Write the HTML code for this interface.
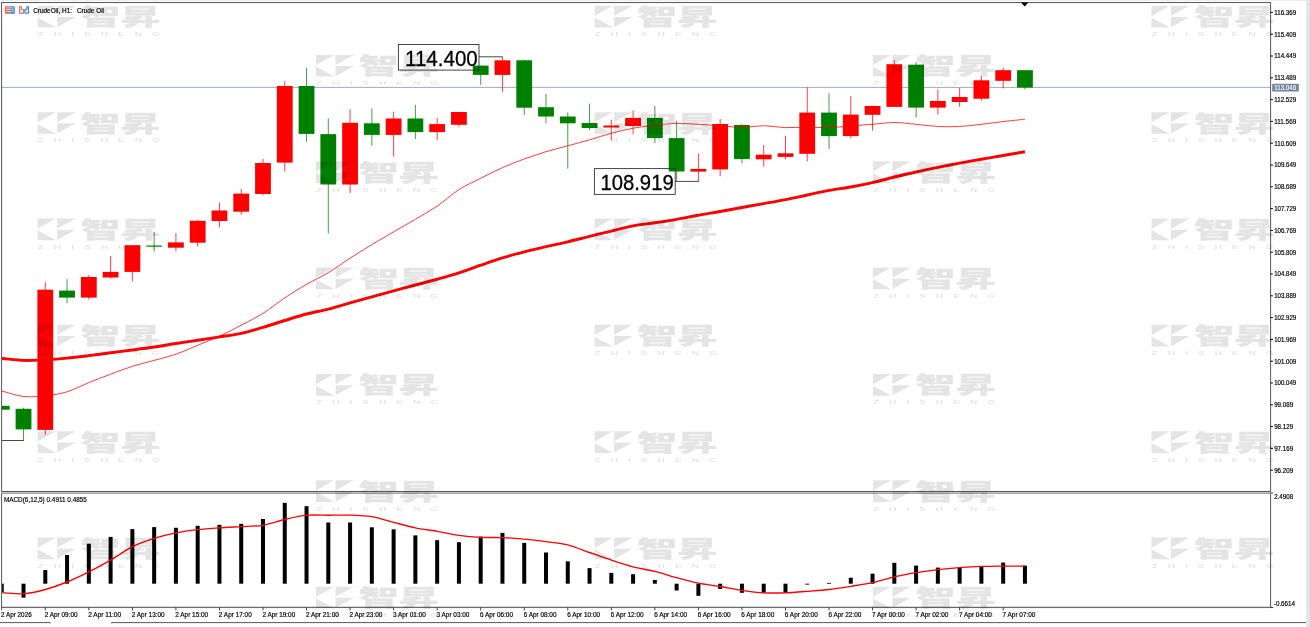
<!DOCTYPE html>
<html lang="zh"><head><meta charset="utf-8"><title>CrudeOil, H1</title>
<style>html,body{margin:0;padding:0;background:#fff;overflow:hidden}body{width:1310px;height:627px;position:relative}</style></head>
<body>
<svg width="1310" height="627" viewBox="0 0 1310 627" style="position:absolute;left:0;top:0;font-family:'Liberation Sans','DejaVu Sans',sans-serif">
<defs>
<clipPath id="cm"><rect x="2.1" y="3" width="1268" height="488"/></clipPath>
<clipPath id="cs"><rect x="2.1" y="493.5" width="1268" height="113.5"/></clipPath>
</defs>
<rect x="0" y="0" width="1310" height="627" fill="#fff"/>
<rect x="0" y="0" width="1310" height="0.9" fill="#ececec"/>
<rect x="1306.2" y="0" width="4" height="627" fill="#dde7ea"/>
<g clip-path="url(#cm)">
<rect x="2" y="86.9" width="1269" height="0.9" fill="#93a3b8"/>
<rect x="1.25" y="405.8" width="1" height="3.9" fill="#008000" fill-opacity="0.75"/>
<rect x="-6.15" y="405.8" width="15.8" height="3.9" fill="#008000"/>
<rect x="23.02" y="407.7" width="1" height="32.9" fill="#008000" fill-opacity="0.75"/>
<rect x="15.62" y="408.8" width="15.8" height="20.6" fill="#008000"/>
<rect x="44.79" y="282.2" width="1" height="152.5" fill="#ff0000" fill-opacity="0.75"/>
<rect x="37.39" y="289.7" width="15.8" height="140.2" fill="#ff0000"/>
<rect x="66.56" y="279.2" width="1" height="24.0" fill="#008000" fill-opacity="0.75"/>
<rect x="59.16" y="290.6" width="15.8" height="7.0" fill="#008000"/>
<rect x="88.33" y="275.2" width="1" height="24.4" fill="#ff0000" fill-opacity="0.75"/>
<rect x="80.93" y="277.0" width="15.8" height="20.6" fill="#ff0000"/>
<rect x="110.10" y="256.0" width="1" height="22.7" fill="#ff0000" fill-opacity="0.75"/>
<rect x="102.70" y="271.9" width="15.8" height="5.6" fill="#ff0000"/>
<rect x="131.87" y="245.2" width="1" height="36.3" fill="#ff0000" fill-opacity="0.75"/>
<rect x="124.47" y="245.2" width="15.8" height="26.7" fill="#ff0000"/>
<rect x="153.64" y="231.9" width="1" height="19.6" fill="#008000" fill-opacity="0.75"/>
<rect x="146.24" y="245.5" width="15.8" height="1.2" fill="#008000"/>
<rect x="175.41" y="233.1" width="1" height="18.4" fill="#ff0000" fill-opacity="0.75"/>
<rect x="168.01" y="242.4" width="15.8" height="5.3" fill="#ff0000"/>
<rect x="197.18" y="220.0" width="1" height="26.5" fill="#ff0000" fill-opacity="0.75"/>
<rect x="189.78" y="220.8" width="15.8" height="21.9" fill="#ff0000"/>
<rect x="218.95" y="202.4" width="1" height="24.9" fill="#ff0000" fill-opacity="0.75"/>
<rect x="211.55" y="210.5" width="15.8" height="10.5" fill="#ff0000"/>
<rect x="240.72" y="189.0" width="1" height="25.7" fill="#ff0000" fill-opacity="0.75"/>
<rect x="233.32" y="193.6" width="15.8" height="18.1" fill="#ff0000"/>
<rect x="262.49" y="158.9" width="1" height="36.4" fill="#ff0000" fill-opacity="0.75"/>
<rect x="255.09" y="163.0" width="15.8" height="31.0" fill="#ff0000"/>
<rect x="284.26" y="81.0" width="1" height="90.6" fill="#ff0000" fill-opacity="0.75"/>
<rect x="276.86" y="86.0" width="15.8" height="76.6" fill="#ff0000"/>
<rect x="306.03" y="67.6" width="1" height="74.3" fill="#008000" fill-opacity="0.75"/>
<rect x="298.63" y="86.0" width="15.8" height="47.9" fill="#008000"/>
<rect x="327.80" y="118.5" width="1" height="114.9" fill="#008000" fill-opacity="0.75"/>
<rect x="320.40" y="134.1" width="15.8" height="50.4" fill="#008000"/>
<rect x="349.57" y="109.2" width="1" height="83.8" fill="#ff0000" fill-opacity="0.75"/>
<rect x="342.17" y="122.8" width="15.8" height="61.7" fill="#ff0000"/>
<rect x="371.34" y="108.4" width="1" height="37.3" fill="#008000" fill-opacity="0.75"/>
<rect x="363.94" y="123.3" width="15.8" height="11.6" fill="#008000"/>
<rect x="393.11" y="111.7" width="1" height="44.8" fill="#ff0000" fill-opacity="0.75"/>
<rect x="385.71" y="118.5" width="15.8" height="16.4" fill="#ff0000"/>
<rect x="414.88" y="104.9" width="1" height="34.0" fill="#008000" fill-opacity="0.75"/>
<rect x="407.48" y="118.5" width="15.8" height="13.6" fill="#008000"/>
<rect x="436.65" y="118.0" width="1" height="22.2" fill="#ff0000" fill-opacity="0.75"/>
<rect x="429.25" y="124.1" width="15.8" height="8.0" fill="#ff0000"/>
<rect x="458.42" y="112.0" width="1" height="14.6" fill="#ff0000" fill-opacity="0.75"/>
<rect x="451.02" y="112.0" width="15.8" height="12.8" fill="#ff0000"/>
<rect x="480.19" y="65.6" width="1" height="19.2" fill="#008000" fill-opacity="0.75"/>
<rect x="472.79" y="65.6" width="15.8" height="9.3" fill="#008000"/>
<rect x="501.96" y="57.6" width="1" height="34.2" fill="#ff0000" fill-opacity="0.75"/>
<rect x="494.56" y="60.3" width="15.8" height="14.6" fill="#ff0000"/>
<rect x="523.73" y="59.6" width="1" height="55.4" fill="#008000" fill-opacity="0.75"/>
<rect x="516.33" y="60.3" width="15.8" height="47.4" fill="#008000"/>
<rect x="545.50" y="94.0" width="1" height="29.3" fill="#008000" fill-opacity="0.75"/>
<rect x="538.10" y="107.2" width="15.8" height="9.3" fill="#008000"/>
<rect x="567.27" y="112.4" width="1" height="56.3" fill="#008000" fill-opacity="0.75"/>
<rect x="559.87" y="116.5" width="15.8" height="6.8" fill="#008000"/>
<rect x="589.04" y="103.6" width="1" height="26.4" fill="#008000" fill-opacity="0.75"/>
<rect x="581.64" y="123.0" width="15.8" height="5.0" fill="#008000"/>
<rect x="610.81" y="119.7" width="1" height="20.4" fill="#ff0000" fill-opacity="0.75"/>
<rect x="603.41" y="125.5" width="15.8" height="2.0" fill="#ff0000"/>
<rect x="632.58" y="110.4" width="1" height="23.9" fill="#ff0000" fill-opacity="0.75"/>
<rect x="625.18" y="117.9" width="15.8" height="8.1" fill="#ff0000"/>
<rect x="654.35" y="106.0" width="1" height="37.0" fill="#008000" fill-opacity="0.75"/>
<rect x="646.95" y="117.9" width="15.8" height="20.2" fill="#008000"/>
<rect x="676.12" y="120.9" width="1" height="59.9" fill="#008000" fill-opacity="0.75"/>
<rect x="668.72" y="138.1" width="15.8" height="33.4" fill="#008000"/>
<rect x="697.89" y="153.4" width="1" height="28.0" fill="#ff0000" fill-opacity="0.75"/>
<rect x="690.49" y="168.9" width="15.8" height="2.7" fill="#ff0000"/>
<rect x="719.66" y="119.0" width="1" height="57.2" fill="#ff0000" fill-opacity="0.75"/>
<rect x="712.26" y="124.0" width="15.8" height="45.4" fill="#ff0000"/>
<rect x="741.43" y="123.8" width="1" height="39.5" fill="#008000" fill-opacity="0.75"/>
<rect x="734.03" y="125.0" width="15.8" height="34.1" fill="#008000"/>
<rect x="763.20" y="145.0" width="1" height="21.7" fill="#ff0000" fill-opacity="0.75"/>
<rect x="755.80" y="154.7" width="15.8" height="4.6" fill="#ff0000"/>
<rect x="784.97" y="135.7" width="1" height="23.6" fill="#ff0000" fill-opacity="0.75"/>
<rect x="777.57" y="153.3" width="15.8" height="3.6" fill="#ff0000"/>
<rect x="806.74" y="87.3" width="1" height="74.2" fill="#ff0000" fill-opacity="0.75"/>
<rect x="799.34" y="112.6" width="15.8" height="41.2" fill="#ff0000"/>
<rect x="828.51" y="93.3" width="1" height="55.6" fill="#008000" fill-opacity="0.75"/>
<rect x="821.11" y="112.6" width="15.8" height="23.5" fill="#008000"/>
<rect x="850.28" y="95.9" width="1" height="42.4" fill="#ff0000" fill-opacity="0.75"/>
<rect x="842.88" y="114.6" width="15.8" height="21.5" fill="#ff0000"/>
<rect x="872.05" y="106.0" width="1" height="24.7" fill="#ff0000" fill-opacity="0.75"/>
<rect x="864.65" y="106.0" width="15.8" height="8.8" fill="#ff0000"/>
<rect x="893.82" y="60.2" width="1" height="46.7" fill="#ff0000" fill-opacity="0.75"/>
<rect x="886.42" y="64.2" width="15.8" height="42.7" fill="#ff0000"/>
<rect x="915.59" y="62.2" width="1" height="55.4" fill="#008000" fill-opacity="0.75"/>
<rect x="908.19" y="64.7" width="15.8" height="42.9" fill="#008000"/>
<rect x="937.36" y="89.4" width="1" height="25.1" fill="#ff0000" fill-opacity="0.75"/>
<rect x="929.96" y="101.0" width="15.8" height="6.6" fill="#ff0000"/>
<rect x="959.13" y="87.9" width="1" height="19.0" fill="#ff0000" fill-opacity="0.75"/>
<rect x="951.73" y="97.0" width="15.8" height="5.0" fill="#ff0000"/>
<rect x="980.90" y="76.0" width="1" height="24.6" fill="#ff0000" fill-opacity="0.75"/>
<rect x="973.50" y="80.3" width="15.8" height="18.4" fill="#ff0000"/>
<rect x="1002.67" y="67.7" width="1" height="20.9" fill="#ff0000" fill-opacity="0.75"/>
<rect x="995.27" y="70.2" width="15.8" height="10.6" fill="#ff0000"/>
<rect x="1024.44" y="70.2" width="1" height="19.2" fill="#008000" fill-opacity="0.75"/>
<rect x="1017.04" y="70.2" width="15.8" height="17.4" fill="#008000"/>
<path d="M2 440.5H23.6" stroke="#333" stroke-width="0.9" fill="none"/>
<path d="M479 56.8H502.4V58" stroke="#333" stroke-width="0.9" fill="none"/>
<path d="M675 181.4H698.4V180.5" stroke="#333" stroke-width="0.9" fill="none"/>
<path fill="none" stroke="#ff0000" stroke-width="0.9" stroke-opacity="0.85" d="M-20.02 385.50C-16.54 386.38 -5.22 389.24 1.75 391.00C8.72 392.76 16.55 395.75 23.52 396.50C30.49 397.25 38.32 396.45 45.29 395.70C52.26 394.95 60.09 393.90 67.06 391.80C74.03 389.70 81.86 385.42 88.83 382.60C95.80 379.78 103.63 376.81 110.60 374.20C117.57 371.59 125.40 368.51 132.37 366.30C139.34 364.09 147.17 362.34 154.14 360.40C161.11 358.46 168.94 356.62 175.91 354.20C182.88 351.78 190.71 348.18 197.68 345.30C204.65 342.42 212.48 339.42 219.45 336.20C226.42 332.98 234.25 328.85 241.22 325.20C248.19 321.55 256.02 317.77 262.99 313.40C269.96 309.03 277.79 302.56 284.76 297.90C291.73 293.24 299.56 288.33 306.53 284.30C313.50 280.27 321.33 276.89 328.30 272.70C335.27 268.51 343.10 262.58 350.07 258.10C357.04 253.62 364.87 248.91 371.84 244.70C378.81 240.49 386.64 235.86 393.61 231.80C400.58 227.74 408.41 223.41 415.38 219.30C422.35 215.19 430.18 210.85 437.15 206.10C444.12 201.35 451.95 194.05 458.92 189.60C465.89 185.15 473.72 181.82 480.69 178.30C487.66 174.78 495.49 170.69 502.46 167.60C509.43 164.51 517.26 161.54 524.23 159.00C531.20 156.46 539.03 153.81 546.00 151.70C552.97 149.59 560.80 147.70 567.77 145.80C574.74 143.90 582.57 141.80 589.54 139.80C596.51 137.80 604.34 135.16 611.31 133.30C618.28 131.44 626.11 129.50 633.08 128.20C640.05 126.90 647.88 125.92 654.85 125.15C661.82 124.38 669.65 123.54 676.62 123.40C683.59 123.26 691.42 123.92 698.39 124.30C705.36 124.68 713.19 125.30 720.16 125.80C727.13 126.30 734.96 127.40 741.93 127.40C748.90 127.40 756.73 125.77 763.70 125.80C770.67 125.83 778.50 127.39 785.47 127.60C792.44 127.81 800.27 127.10 807.24 127.10C814.21 127.10 822.04 127.79 829.01 127.60C835.98 127.41 843.81 126.43 850.78 125.90C857.75 125.37 865.58 124.84 872.55 124.30C879.52 123.76 887.35 122.50 894.32 122.50C901.29 122.50 909.12 123.66 916.09 124.30C923.06 124.94 930.89 126.15 937.86 126.50C944.83 126.85 952.66 126.85 959.63 126.50C966.60 126.15 974.43 125.08 981.40 124.30C988.37 123.52 996.20 122.42 1003.17 121.60C1010.14 120.78 1021.46 119.58 1024.94 119.20"/>
<path fill="none" stroke="#ff0000" stroke-width="2.9" stroke-linejoin="round" d="M-20.02 356.40C-16.54 356.72 -5.22 357.76 1.75 358.40C8.72 359.04 16.55 360.19 23.52 360.40C30.49 360.61 38.32 360.07 45.29 359.70C52.26 359.33 60.09 358.76 67.06 358.10C74.03 357.44 81.86 356.45 88.83 355.60C95.80 354.75 103.63 353.70 110.60 352.80C117.57 351.90 125.40 350.93 132.37 350.00C139.34 349.07 147.17 348.04 154.14 347.00C161.11 345.96 168.94 344.59 175.91 343.50C182.88 342.41 190.71 341.26 197.68 340.20C204.65 339.14 212.48 338.00 219.45 336.90C226.42 335.80 234.25 334.82 241.22 333.30C248.19 331.78 256.02 329.45 262.99 327.40C269.96 325.35 277.79 322.64 284.76 320.50C291.73 318.36 299.56 315.82 306.53 314.00C313.50 312.18 321.33 310.89 328.30 309.10C335.27 307.31 343.10 304.77 350.07 302.80C357.04 300.83 364.87 298.72 371.84 296.80C378.81 294.88 386.64 292.69 393.61 290.80C400.58 288.91 408.41 286.85 415.38 285.00C422.35 283.15 430.18 281.19 437.15 279.25C444.12 277.31 451.95 275.15 458.92 272.90C465.89 270.65 473.72 267.60 480.69 265.20C487.66 262.80 495.49 260.04 502.46 257.90C509.43 255.76 517.26 253.59 524.23 251.80C531.20 250.01 539.03 248.30 546.00 246.70C552.97 245.10 560.80 243.46 567.77 241.80C574.74 240.14 582.57 238.01 589.54 236.30C596.51 234.59 604.34 232.78 611.31 231.10C618.28 229.42 626.11 227.13 633.08 225.80C640.05 224.47 647.88 223.82 654.85 222.80C661.82 221.78 669.65 220.62 676.62 219.40C683.59 218.18 691.42 216.46 698.39 215.20C705.36 213.94 713.19 212.73 720.16 211.50C727.13 210.27 734.96 208.76 741.93 207.50C748.90 206.24 756.73 204.86 763.70 203.60C770.67 202.34 778.50 200.98 785.47 199.60C792.44 198.22 800.27 196.47 807.24 195.00C814.21 193.53 822.04 191.68 829.01 190.40C835.98 189.12 843.81 188.25 850.78 187.00C857.75 185.75 865.58 184.20 872.55 182.60C879.52 181.00 887.35 178.70 894.32 177.00C901.29 175.30 909.12 173.54 916.09 172.00C923.06 170.46 930.89 168.81 937.86 167.40C944.83 165.99 952.66 164.51 959.63 163.20C966.60 161.89 974.43 160.43 981.40 159.20C988.37 157.97 996.20 156.68 1003.17 155.50C1010.14 154.32 1021.46 152.39 1024.94 151.80"/>
<rect x="398.4" y="44.5" width="80.6" height="25.6" fill="none" stroke="#333" stroke-width="0.9"/>
<text x="405.00" y="65.70" font-size="22" fill="#000" stroke="#000" stroke-width="0.3" textLength="72.80" lengthAdjust="spacingAndGlyphs">114.400</text>
<rect x="594.4" y="168.6" width="80.8" height="25.8" fill="none" stroke="#333" stroke-width="0.9"/>
<text x="600.40" y="189.90" font-size="22" fill="#000" stroke="#000" stroke-width="0.3" textLength="73.30" lengthAdjust="spacingAndGlyphs">108.919</text>
</g>
<g clip-path="url(#cs)">
<rect x="-0.25" y="583.7" width="4" height="8.3" fill="#000"/>
<rect x="21.52" y="583.7" width="4" height="13.9" fill="#000"/>
<rect x="43.29" y="570.1" width="4" height="13.6" fill="#000"/>
<rect x="65.06" y="555.0" width="4" height="28.7" fill="#000"/>
<rect x="86.83" y="543.7" width="4" height="40.0" fill="#000"/>
<rect x="108.60" y="536.9" width="4" height="46.8" fill="#000"/>
<rect x="130.37" y="529.1" width="4" height="54.6" fill="#000"/>
<rect x="152.14" y="527.1" width="4" height="56.6" fill="#000"/>
<rect x="173.91" y="527.8" width="4" height="55.9" fill="#000"/>
<rect x="195.68" y="525.8" width="4" height="57.9" fill="#000"/>
<rect x="217.45" y="524.8" width="4" height="58.9" fill="#000"/>
<rect x="239.22" y="523.8" width="4" height="59.9" fill="#000"/>
<rect x="260.99" y="519.0" width="4" height="64.7" fill="#000"/>
<rect x="282.76" y="502.9" width="4" height="80.8" fill="#000"/>
<rect x="304.53" y="506.2" width="4" height="77.5" fill="#000"/>
<rect x="326.30" y="522.5" width="4" height="61.2" fill="#000"/>
<rect x="348.07" y="522.5" width="4" height="61.2" fill="#000"/>
<rect x="369.84" y="527.3" width="4" height="56.4" fill="#000"/>
<rect x="391.61" y="529.3" width="4" height="54.4" fill="#000"/>
<rect x="413.38" y="535.4" width="4" height="48.3" fill="#000"/>
<rect x="435.15" y="540.2" width="4" height="43.5" fill="#000"/>
<rect x="456.92" y="542.2" width="4" height="41.5" fill="#000"/>
<rect x="478.69" y="536.6" width="4" height="47.1" fill="#000"/>
<rect x="500.46" y="532.9" width="4" height="50.8" fill="#000"/>
<rect x="522.23" y="542.9" width="4" height="40.8" fill="#000"/>
<rect x="544.00" y="552.5" width="4" height="31.2" fill="#000"/>
<rect x="565.77" y="561.3" width="4" height="22.4" fill="#000"/>
<rect x="587.54" y="568.1" width="4" height="15.6" fill="#000"/>
<rect x="609.31" y="572.9" width="4" height="10.8" fill="#000"/>
<rect x="631.08" y="574.2" width="4" height="9.5" fill="#000"/>
<rect x="652.85" y="580.0" width="4" height="3.7" fill="#000"/>
<rect x="674.62" y="583.7" width="4" height="6.8" fill="#000"/>
<rect x="696.39" y="583.7" width="4" height="12.1" fill="#000"/>
<rect x="718.16" y="583.7" width="4" height="5.3" fill="#000"/>
<rect x="739.93" y="583.7" width="4" height="9.1" fill="#000"/>
<rect x="761.70" y="583.7" width="4" height="9.1" fill="#000"/>
<rect x="783.47" y="583.7" width="4" height="9.1" fill="#000"/>
<rect x="805.24" y="583.7" width="4" height="0.9" fill="#000"/>
<rect x="827.01" y="582.9" width="4" height="0.8" fill="#000"/>
<rect x="848.78" y="577.7" width="4" height="6.0" fill="#000"/>
<rect x="870.55" y="573.7" width="4" height="10.0" fill="#000"/>
<rect x="892.32" y="562.8" width="4" height="20.9" fill="#000"/>
<rect x="914.09" y="565.6" width="4" height="18.1" fill="#000"/>
<rect x="935.86" y="567.6" width="4" height="16.1" fill="#000"/>
<rect x="957.63" y="567.6" width="4" height="16.1" fill="#000"/>
<rect x="979.40" y="566.4" width="4" height="17.3" fill="#000"/>
<rect x="1001.17" y="562.6" width="4" height="21.1" fill="#000"/>
<rect x="1022.94" y="565.6" width="4" height="18.1" fill="#000"/>
<path fill="none" stroke="#ff0000" stroke-width="1.35" stroke-linejoin="round" d="M-20.02 591.40C-17.41 591.54 -3.47 592.31 1.75 592.60C6.97 592.89 18.30 594.17 23.52 593.80C28.74 593.43 40.07 590.92 45.29 589.50C50.51 588.08 61.84 584.11 67.06 582.00C72.28 579.89 83.61 574.53 88.83 571.90C94.05 569.27 105.38 563.12 110.60 560.10C115.82 557.08 127.15 549.30 132.37 546.70C137.59 544.10 148.92 540.06 154.14 538.40C159.36 536.74 170.69 533.96 175.91 532.90C181.13 531.84 192.46 530.21 197.68 529.60C202.90 528.99 214.23 528.16 219.45 527.80C224.67 527.44 236.00 526.90 241.22 526.60C246.44 526.30 257.77 526.15 262.99 525.30C268.21 524.45 279.54 520.71 284.76 519.50C289.98 518.29 301.31 515.72 306.53 515.20C311.75 514.68 323.08 515.20 328.30 515.20C333.52 515.20 344.85 515.02 350.07 515.20C355.29 515.38 366.62 515.85 371.84 516.70C377.06 517.55 388.39 520.97 393.61 522.30C398.83 523.63 410.16 526.72 415.38 527.80C420.60 528.88 431.93 530.39 437.15 531.30C442.37 532.21 453.70 534.67 458.92 535.40C464.14 536.13 475.47 537.14 480.69 537.40C485.91 537.66 497.24 537.38 502.46 537.60C507.68 537.82 519.01 538.71 524.23 539.20C529.45 539.69 540.78 541.02 546.00 541.70C551.22 542.38 562.55 543.60 567.77 544.90C572.99 546.20 584.32 550.68 589.54 552.50C594.76 554.32 606.09 558.37 611.31 560.10C616.53 561.83 627.86 565.54 633.08 566.90C638.30 568.26 649.63 570.10 654.85 571.40C660.07 572.70 671.40 576.28 676.62 577.70C681.84 579.12 693.17 582.14 698.39 583.20C703.61 584.26 714.94 585.65 720.16 586.50C725.38 587.35 736.71 589.54 741.93 590.30C747.15 591.06 758.48 592.50 763.70 592.80C768.92 593.10 780.25 592.98 785.47 592.80C790.69 592.62 802.02 591.70 807.24 591.30C812.46 590.90 823.79 590.10 829.01 589.50C834.23 588.90 845.56 587.12 850.78 586.30C856.00 585.48 867.33 583.83 872.55 582.70C877.77 581.57 889.10 578.10 894.32 576.90C899.54 575.70 910.87 573.58 916.09 572.70C921.31 571.82 932.64 570.21 937.86 569.60C943.08 568.99 954.41 567.98 959.63 567.60C964.85 567.22 976.18 566.58 981.40 566.40C986.62 566.22 997.95 566.14 1003.17 566.10C1008.39 566.06 1022.33 566.10 1024.94 566.10"/>
</g>
<rect x="1.6" y="2.55" width="1269.0" height="488.9" fill="none" stroke="#555" stroke-width="1"/>
<path d="M1.6 493.0V607.8M1270.6 607.8V493.0" fill="none" stroke="#555" stroke-width="1"/>
<rect x="1.1" y="606.75" width="1270.0" height="1.3" fill="#6a6a6a"/>
<rect x="1.1" y="492.45" width="1270.0" height="1.3" fill="#8c8c8c"/>
<rect x="1.1" y="607.4" width="1" height="3" fill="#555"/>
<path d="M1021 2.6H1028.4L1024.7 6.6Z" fill="#000"/>
<rect x="1270.6" y="11.90" width="2.3" height="1" fill="#000"/>
<text x="1274.20" y="14.75" font-size="6.6" fill="#000" stroke="#000" stroke-width="0.18" textLength="22.00" lengthAdjust="spacingAndGlyphs">116.369</text>
<rect x="1270.6" y="33.70" width="2.3" height="1" fill="#000"/>
<text x="1274.20" y="36.55" font-size="6.6" fill="#000" stroke="#000" stroke-width="0.18" textLength="22.00" lengthAdjust="spacingAndGlyphs">115.409</text>
<rect x="1270.6" y="55.50" width="2.3" height="1" fill="#000"/>
<text x="1274.20" y="58.35" font-size="6.6" fill="#000" stroke="#000" stroke-width="0.18" textLength="22.00" lengthAdjust="spacingAndGlyphs">114.449</text>
<rect x="1270.6" y="77.30" width="2.3" height="1" fill="#000"/>
<text x="1274.20" y="80.15" font-size="6.6" fill="#000" stroke="#000" stroke-width="0.18" textLength="22.00" lengthAdjust="spacingAndGlyphs">113.489</text>
<rect x="1270.6" y="99.10" width="2.3" height="1" fill="#000"/>
<text x="1274.20" y="101.95" font-size="6.6" fill="#000" stroke="#000" stroke-width="0.18" textLength="22.00" lengthAdjust="spacingAndGlyphs">112.529</text>
<rect x="1270.6" y="120.90" width="2.3" height="1" fill="#000"/>
<text x="1274.20" y="123.75" font-size="6.6" fill="#000" stroke="#000" stroke-width="0.18" textLength="22.00" lengthAdjust="spacingAndGlyphs">111.569</text>
<rect x="1270.6" y="142.70" width="2.3" height="1" fill="#000"/>
<text x="1274.20" y="145.55" font-size="6.6" fill="#000" stroke="#000" stroke-width="0.18" textLength="22.00" lengthAdjust="spacingAndGlyphs">110.609</text>
<rect x="1270.6" y="164.50" width="2.3" height="1" fill="#000"/>
<text x="1274.20" y="167.35" font-size="6.6" fill="#000" stroke="#000" stroke-width="0.18" textLength="22.00" lengthAdjust="spacingAndGlyphs">109.649</text>
<rect x="1270.6" y="186.30" width="2.3" height="1" fill="#000"/>
<text x="1274.20" y="189.15" font-size="6.6" fill="#000" stroke="#000" stroke-width="0.18" textLength="22.00" lengthAdjust="spacingAndGlyphs">108.689</text>
<rect x="1270.6" y="208.10" width="2.3" height="1" fill="#000"/>
<text x="1274.20" y="210.95" font-size="6.6" fill="#000" stroke="#000" stroke-width="0.18" textLength="22.00" lengthAdjust="spacingAndGlyphs">107.729</text>
<rect x="1270.6" y="229.90" width="2.3" height="1" fill="#000"/>
<text x="1274.20" y="232.75" font-size="6.6" fill="#000" stroke="#000" stroke-width="0.18" textLength="22.00" lengthAdjust="spacingAndGlyphs">106.769</text>
<rect x="1270.6" y="251.70" width="2.3" height="1" fill="#000"/>
<text x="1274.20" y="254.55" font-size="6.6" fill="#000" stroke="#000" stroke-width="0.18" textLength="22.00" lengthAdjust="spacingAndGlyphs">105.809</text>
<rect x="1270.6" y="273.50" width="2.3" height="1" fill="#000"/>
<text x="1274.20" y="276.35" font-size="6.6" fill="#000" stroke="#000" stroke-width="0.18" textLength="22.00" lengthAdjust="spacingAndGlyphs">104.849</text>
<rect x="1270.6" y="295.30" width="2.3" height="1" fill="#000"/>
<text x="1274.20" y="298.15" font-size="6.6" fill="#000" stroke="#000" stroke-width="0.18" textLength="22.00" lengthAdjust="spacingAndGlyphs">103.889</text>
<rect x="1270.6" y="317.10" width="2.3" height="1" fill="#000"/>
<text x="1274.20" y="319.95" font-size="6.6" fill="#000" stroke="#000" stroke-width="0.18" textLength="22.00" lengthAdjust="spacingAndGlyphs">102.929</text>
<rect x="1270.6" y="338.90" width="2.3" height="1" fill="#000"/>
<text x="1274.20" y="341.75" font-size="6.6" fill="#000" stroke="#000" stroke-width="0.18" textLength="22.00" lengthAdjust="spacingAndGlyphs">101.969</text>
<rect x="1270.6" y="360.70" width="2.3" height="1" fill="#000"/>
<text x="1274.20" y="363.55" font-size="6.6" fill="#000" stroke="#000" stroke-width="0.18" textLength="22.00" lengthAdjust="spacingAndGlyphs">101.009</text>
<rect x="1270.6" y="382.50" width="2.3" height="1" fill="#000"/>
<text x="1274.20" y="385.35" font-size="6.6" fill="#000" stroke="#000" stroke-width="0.18" textLength="22.00" lengthAdjust="spacingAndGlyphs">100.049</text>
<rect x="1270.6" y="404.30" width="2.3" height="1" fill="#000"/>
<text x="1274.20" y="407.15" font-size="6.6" fill="#000" stroke="#000" stroke-width="0.18" textLength="18.90" lengthAdjust="spacingAndGlyphs">99.089</text>
<rect x="1270.6" y="426.10" width="2.3" height="1" fill="#000"/>
<text x="1274.20" y="428.95" font-size="6.6" fill="#000" stroke="#000" stroke-width="0.18" textLength="18.90" lengthAdjust="spacingAndGlyphs">98.129</text>
<rect x="1270.6" y="447.90" width="2.3" height="1" fill="#000"/>
<text x="1274.20" y="450.75" font-size="6.6" fill="#000" stroke="#000" stroke-width="0.18" textLength="18.90" lengthAdjust="spacingAndGlyphs">97.169</text>
<rect x="1270.6" y="469.70" width="2.3" height="1" fill="#000"/>
<text x="1274.20" y="472.55" font-size="6.6" fill="#000" stroke="#000" stroke-width="0.18" textLength="18.90" lengthAdjust="spacingAndGlyphs">96.209</text>
<rect x="1272.2" y="83.8" width="26.6" height="7.7" fill="#72869d"/>
<text x="1274.20" y="90.00" font-size="6.6" fill="#fff" stroke="#fff" stroke-width="0.12" textLength="22.00" lengthAdjust="spacingAndGlyphs">113.046</text>
<rect x="1270.6" y="492.55" width="2.4" height="0.9" fill="#222"/>
<rect x="1270.6" y="606.9499999999999" width="2.6" height="0.9" fill="#222"/>
<text x="1274.20" y="498.70" font-size="6.6" fill="#000" stroke="#000" stroke-width="0.18" textLength="18.90" lengthAdjust="spacingAndGlyphs">2.4908</text>
<text x="1273.80" y="606.40" font-size="6.6" fill="#000" stroke="#000" stroke-width="0.18" textLength="21.30" lengthAdjust="spacingAndGlyphs">-0.6614</text>
<text x="1.00" y="616.80" font-size="6.8" fill="#000" stroke="#000" stroke-width="0.18" textLength="30.70" lengthAdjust="spacingAndGlyphs">2 Apr 2026</text>
<rect x="44.84" y="607.4" width="0.9" height="3" fill="#333"/>
<text x="44.69" y="616.80" font-size="6.8" fill="#000" stroke="#000" stroke-width="0.18" textLength="32.90" lengthAdjust="spacingAndGlyphs">2 Apr 09:00</text>
<rect x="88.38" y="607.4" width="0.9" height="3" fill="#333"/>
<text x="88.23" y="616.80" font-size="6.8" fill="#000" stroke="#000" stroke-width="0.18" textLength="32.90" lengthAdjust="spacingAndGlyphs">2 Apr 11:00</text>
<rect x="131.92" y="607.4" width="0.9" height="3" fill="#333"/>
<text x="131.77" y="616.80" font-size="6.8" fill="#000" stroke="#000" stroke-width="0.18" textLength="32.90" lengthAdjust="spacingAndGlyphs">2 Apr 13:00</text>
<rect x="175.46" y="607.4" width="0.9" height="3" fill="#333"/>
<text x="175.31" y="616.80" font-size="6.8" fill="#000" stroke="#000" stroke-width="0.18" textLength="32.90" lengthAdjust="spacingAndGlyphs">2 Apr 15:00</text>
<rect x="219.00" y="607.4" width="0.9" height="3" fill="#333"/>
<text x="218.85" y="616.80" font-size="6.8" fill="#000" stroke="#000" stroke-width="0.18" textLength="32.90" lengthAdjust="spacingAndGlyphs">2 Apr 17:00</text>
<rect x="262.54" y="607.4" width="0.9" height="3" fill="#333"/>
<text x="262.39" y="616.80" font-size="6.8" fill="#000" stroke="#000" stroke-width="0.18" textLength="32.90" lengthAdjust="spacingAndGlyphs">2 Apr 19:00</text>
<rect x="306.08" y="607.4" width="0.9" height="3" fill="#333"/>
<text x="305.93" y="616.80" font-size="6.8" fill="#000" stroke="#000" stroke-width="0.18" textLength="32.90" lengthAdjust="spacingAndGlyphs">2 Apr 21:00</text>
<rect x="349.62" y="607.4" width="0.9" height="3" fill="#333"/>
<text x="349.47" y="616.80" font-size="6.8" fill="#000" stroke="#000" stroke-width="0.18" textLength="32.90" lengthAdjust="spacingAndGlyphs">2 Apr 23:00</text>
<rect x="393.16" y="607.4" width="0.9" height="3" fill="#333"/>
<text x="393.01" y="616.80" font-size="6.8" fill="#000" stroke="#000" stroke-width="0.18" textLength="32.90" lengthAdjust="spacingAndGlyphs">3 Apr 01:00</text>
<rect x="436.70" y="607.4" width="0.9" height="3" fill="#333"/>
<text x="436.55" y="616.80" font-size="6.8" fill="#000" stroke="#000" stroke-width="0.18" textLength="32.90" lengthAdjust="spacingAndGlyphs">3 Apr 03:00</text>
<rect x="480.24" y="607.4" width="0.9" height="3" fill="#333"/>
<text x="480.09" y="616.80" font-size="6.8" fill="#000" stroke="#000" stroke-width="0.18" textLength="32.90" lengthAdjust="spacingAndGlyphs">6 Apr 06:00</text>
<rect x="523.78" y="607.4" width="0.9" height="3" fill="#333"/>
<text x="523.63" y="616.80" font-size="6.8" fill="#000" stroke="#000" stroke-width="0.18" textLength="32.90" lengthAdjust="spacingAndGlyphs">6 Apr 08:00</text>
<rect x="567.32" y="607.4" width="0.9" height="3" fill="#333"/>
<text x="567.17" y="616.80" font-size="6.8" fill="#000" stroke="#000" stroke-width="0.18" textLength="32.90" lengthAdjust="spacingAndGlyphs">6 Apr 10:00</text>
<rect x="610.86" y="607.4" width="0.9" height="3" fill="#333"/>
<text x="610.71" y="616.80" font-size="6.8" fill="#000" stroke="#000" stroke-width="0.18" textLength="32.90" lengthAdjust="spacingAndGlyphs">6 Apr 12:00</text>
<rect x="654.40" y="607.4" width="0.9" height="3" fill="#333"/>
<text x="654.25" y="616.80" font-size="6.8" fill="#000" stroke="#000" stroke-width="0.18" textLength="32.90" lengthAdjust="spacingAndGlyphs">6 Apr 14:00</text>
<rect x="697.94" y="607.4" width="0.9" height="3" fill="#333"/>
<text x="697.79" y="616.80" font-size="6.8" fill="#000" stroke="#000" stroke-width="0.18" textLength="32.90" lengthAdjust="spacingAndGlyphs">6 Apr 16:00</text>
<rect x="741.48" y="607.4" width="0.9" height="3" fill="#333"/>
<text x="741.33" y="616.80" font-size="6.8" fill="#000" stroke="#000" stroke-width="0.18" textLength="32.90" lengthAdjust="spacingAndGlyphs">6 Apr 18:00</text>
<rect x="785.02" y="607.4" width="0.9" height="3" fill="#333"/>
<text x="784.87" y="616.80" font-size="6.8" fill="#000" stroke="#000" stroke-width="0.18" textLength="32.90" lengthAdjust="spacingAndGlyphs">6 Apr 20:00</text>
<rect x="828.56" y="607.4" width="0.9" height="3" fill="#333"/>
<text x="828.41" y="616.80" font-size="6.8" fill="#000" stroke="#000" stroke-width="0.18" textLength="32.90" lengthAdjust="spacingAndGlyphs">6 Apr 22:00</text>
<rect x="872.10" y="607.4" width="0.9" height="3" fill="#333"/>
<text x="871.95" y="616.80" font-size="6.8" fill="#000" stroke="#000" stroke-width="0.18" textLength="32.90" lengthAdjust="spacingAndGlyphs">7 Apr 00:00</text>
<rect x="915.64" y="607.4" width="0.9" height="3" fill="#333"/>
<text x="915.49" y="616.80" font-size="6.8" fill="#000" stroke="#000" stroke-width="0.18" textLength="32.90" lengthAdjust="spacingAndGlyphs">7 Apr 02:00</text>
<rect x="959.18" y="607.4" width="0.9" height="3" fill="#333"/>
<text x="959.03" y="616.80" font-size="6.8" fill="#000" stroke="#000" stroke-width="0.18" textLength="32.90" lengthAdjust="spacingAndGlyphs">7 Apr 04:00</text>
<rect x="1002.72" y="607.4" width="0.9" height="3" fill="#333"/>
<text x="1002.57" y="616.80" font-size="6.8" fill="#000" stroke="#000" stroke-width="0.18" textLength="32.90" lengthAdjust="spacingAndGlyphs">7 Apr 07:00</text>
<text x="33.20" y="12.80" font-size="7.1" fill="#000" stroke="#000" stroke-width="0.18" textLength="38.80" lengthAdjust="spacingAndGlyphs">CrudeOil, H1:</text>
<text x="76.90" y="12.80" font-size="7.1" fill="#000" stroke="#000" stroke-width="0.18" textLength="27.10" lengthAdjust="spacingAndGlyphs">Crude Oil</text>
<text x="3.90" y="502.00" font-size="7.0" fill="#000" stroke="#000" stroke-width="0.18" textLength="83.00" lengthAdjust="spacingAndGlyphs">MACD(6,12,5) 0.4911 0.4855</text>
<g>
<rect x="4.9" y="6.2" width="5" height="7.5" rx="0.8" fill="#e2605e"/>
<rect x="9.9" y="6.2" width="4.9" height="7.5" rx="0.8" fill="#3c84c2"/>
<rect x="6" y="7.5" width="7.8" height="0.8" fill="#fff" fill-opacity="0.85"/>
<rect x="6" y="9.3" width="7.8" height="0.8" fill="#fff" fill-opacity="0.85"/>
<rect x="6" y="11.1" width="7.8" height="0.8" fill="#fff" fill-opacity="0.85"/>
<path d="M19.6 6.6H21.4V9.4H23.6V13.3H19.6Z" fill="#fde6dc" stroke="#e2605e" stroke-width="1"/>
<path d="M24.8 9.2H26.8V6.6H28.5V13.3H24.8Z" fill="#bfe0f7" stroke="#3c84c2" stroke-width="1"/>
</g>
<path d="M0 622.6H50.1V623.4" stroke="#444" stroke-width="0.9" fill="none"/>
<path d="M111.6 623.4V622.6H1306" stroke="#444" stroke-width="0.9" fill="none"/>
<g transform="translate(37.7 5.80)" fill="#000" opacity="0.1">
<path d="M0 0H18.2L0 10.2Z M0 11.8L18.5 21.7H0Z M19.5 0H38L19.5 10.2Z M19.5 11.2H38L19.5 21.4Z"/>
<text transform="translate(42.7 19.5) scale(1.75 1)" stroke="#000" stroke-width="0.35" font-family="'Liberation Sans','Noto Sans CJK SC',sans-serif" font-weight="900" font-size="22.9">智昇</text>
<text x="0" y="0" font-size="5.5" font-weight="700" textLength="65.1" lengthAdjust="spacing" transform="translate(0 30.3) scale(1.88 1)">ZHISHENG</text>
</g>
<g transform="translate(37.7 112.15)" fill="#000" opacity="0.1">
<path d="M0 0H18.2L0 10.2Z M0 11.8L18.5 21.7H0Z M19.5 0H38L19.5 10.2Z M19.5 11.2H38L19.5 21.4Z"/>
<text transform="translate(42.7 19.5) scale(1.75 1)" stroke="#000" stroke-width="0.35" font-family="'Liberation Sans','Noto Sans CJK SC',sans-serif" font-weight="900" font-size="22.9">智昇</text>
<text x="0" y="0" font-size="5.5" font-weight="700" textLength="65.1" lengthAdjust="spacing" transform="translate(0 30.3) scale(1.88 1)">ZHISHENG</text>
</g>
<g transform="translate(37.7 218.50)" fill="#000" opacity="0.1">
<path d="M0 0H18.2L0 10.2Z M0 11.8L18.5 21.7H0Z M19.5 0H38L19.5 10.2Z M19.5 11.2H38L19.5 21.4Z"/>
<text transform="translate(42.7 19.5) scale(1.75 1)" stroke="#000" stroke-width="0.35" font-family="'Liberation Sans','Noto Sans CJK SC',sans-serif" font-weight="900" font-size="22.9">智昇</text>
<text x="0" y="0" font-size="5.5" font-weight="700" textLength="65.1" lengthAdjust="spacing" transform="translate(0 30.3) scale(1.88 1)">ZHISHENG</text>
</g>
<g transform="translate(37.7 324.85)" fill="#000" opacity="0.1">
<path d="M0 0H18.2L0 10.2Z M0 11.8L18.5 21.7H0Z M19.5 0H38L19.5 10.2Z M19.5 11.2H38L19.5 21.4Z"/>
<text transform="translate(42.7 19.5) scale(1.75 1)" stroke="#000" stroke-width="0.35" font-family="'Liberation Sans','Noto Sans CJK SC',sans-serif" font-weight="900" font-size="22.9">智昇</text>
<text x="0" y="0" font-size="5.5" font-weight="700" textLength="65.1" lengthAdjust="spacing" transform="translate(0 30.3) scale(1.88 1)">ZHISHENG</text>
</g>
<g transform="translate(37.7 431.20)" fill="#000" opacity="0.1">
<path d="M0 0H18.2L0 10.2Z M0 11.8L18.5 21.7H0Z M19.5 0H38L19.5 10.2Z M19.5 11.2H38L19.5 21.4Z"/>
<text transform="translate(42.7 19.5) scale(1.75 1)" stroke="#000" stroke-width="0.35" font-family="'Liberation Sans','Noto Sans CJK SC',sans-serif" font-weight="900" font-size="22.9">智昇</text>
<text x="0" y="0" font-size="5.5" font-weight="700" textLength="65.1" lengthAdjust="spacing" transform="translate(0 30.3) scale(1.88 1)">ZHISHENG</text>
</g>
<g transform="translate(37.7 537.55)" fill="#000" opacity="0.1">
<path d="M0 0H18.2L0 10.2Z M0 11.8L18.5 21.7H0Z M19.5 0H38L19.5 10.2Z M19.5 11.2H38L19.5 21.4Z"/>
<text transform="translate(42.7 19.5) scale(1.75 1)" stroke="#000" stroke-width="0.35" font-family="'Liberation Sans','Noto Sans CJK SC',sans-serif" font-weight="900" font-size="22.9">智昇</text>
<text x="0" y="0" font-size="5.5" font-weight="700" textLength="65.1" lengthAdjust="spacing" transform="translate(0 30.3) scale(1.88 1)">ZHISHENG</text>
</g>
<g transform="translate(594.6 5.80)" fill="#000" opacity="0.1">
<path d="M0 0H18.2L0 10.2Z M0 11.8L18.5 21.7H0Z M19.5 0H38L19.5 10.2Z M19.5 11.2H38L19.5 21.4Z"/>
<text transform="translate(42.7 19.5) scale(1.75 1)" stroke="#000" stroke-width="0.35" font-family="'Liberation Sans','Noto Sans CJK SC',sans-serif" font-weight="900" font-size="22.9">智昇</text>
<text x="0" y="0" font-size="5.5" font-weight="700" textLength="65.1" lengthAdjust="spacing" transform="translate(0 30.3) scale(1.88 1)">ZHISHENG</text>
</g>
<g transform="translate(594.6 112.15)" fill="#000" opacity="0.1">
<path d="M0 0H18.2L0 10.2Z M0 11.8L18.5 21.7H0Z M19.5 0H38L19.5 10.2Z M19.5 11.2H38L19.5 21.4Z"/>
<text transform="translate(42.7 19.5) scale(1.75 1)" stroke="#000" stroke-width="0.35" font-family="'Liberation Sans','Noto Sans CJK SC',sans-serif" font-weight="900" font-size="22.9">智昇</text>
<text x="0" y="0" font-size="5.5" font-weight="700" textLength="65.1" lengthAdjust="spacing" transform="translate(0 30.3) scale(1.88 1)">ZHISHENG</text>
</g>
<g transform="translate(594.6 218.50)" fill="#000" opacity="0.1">
<path d="M0 0H18.2L0 10.2Z M0 11.8L18.5 21.7H0Z M19.5 0H38L19.5 10.2Z M19.5 11.2H38L19.5 21.4Z"/>
<text transform="translate(42.7 19.5) scale(1.75 1)" stroke="#000" stroke-width="0.35" font-family="'Liberation Sans','Noto Sans CJK SC',sans-serif" font-weight="900" font-size="22.9">智昇</text>
<text x="0" y="0" font-size="5.5" font-weight="700" textLength="65.1" lengthAdjust="spacing" transform="translate(0 30.3) scale(1.88 1)">ZHISHENG</text>
</g>
<g transform="translate(594.6 324.85)" fill="#000" opacity="0.1">
<path d="M0 0H18.2L0 10.2Z M0 11.8L18.5 21.7H0Z M19.5 0H38L19.5 10.2Z M19.5 11.2H38L19.5 21.4Z"/>
<text transform="translate(42.7 19.5) scale(1.75 1)" stroke="#000" stroke-width="0.35" font-family="'Liberation Sans','Noto Sans CJK SC',sans-serif" font-weight="900" font-size="22.9">智昇</text>
<text x="0" y="0" font-size="5.5" font-weight="700" textLength="65.1" lengthAdjust="spacing" transform="translate(0 30.3) scale(1.88 1)">ZHISHENG</text>
</g>
<g transform="translate(594.6 431.20)" fill="#000" opacity="0.1">
<path d="M0 0H18.2L0 10.2Z M0 11.8L18.5 21.7H0Z M19.5 0H38L19.5 10.2Z M19.5 11.2H38L19.5 21.4Z"/>
<text transform="translate(42.7 19.5) scale(1.75 1)" stroke="#000" stroke-width="0.35" font-family="'Liberation Sans','Noto Sans CJK SC',sans-serif" font-weight="900" font-size="22.9">智昇</text>
<text x="0" y="0" font-size="5.5" font-weight="700" textLength="65.1" lengthAdjust="spacing" transform="translate(0 30.3) scale(1.88 1)">ZHISHENG</text>
</g>
<g transform="translate(594.6 537.55)" fill="#000" opacity="0.1">
<path d="M0 0H18.2L0 10.2Z M0 11.8L18.5 21.7H0Z M19.5 0H38L19.5 10.2Z M19.5 11.2H38L19.5 21.4Z"/>
<text transform="translate(42.7 19.5) scale(1.75 1)" stroke="#000" stroke-width="0.35" font-family="'Liberation Sans','Noto Sans CJK SC',sans-serif" font-weight="900" font-size="22.9">智昇</text>
<text x="0" y="0" font-size="5.5" font-weight="700" textLength="65.1" lengthAdjust="spacing" transform="translate(0 30.3) scale(1.88 1)">ZHISHENG</text>
</g>
<g transform="translate(1151.5 5.80)" fill="#000" opacity="0.1">
<path d="M0 0H18.2L0 10.2Z M0 11.8L18.5 21.7H0Z M19.5 0H38L19.5 10.2Z M19.5 11.2H38L19.5 21.4Z"/>
<text transform="translate(42.7 19.5) scale(1.75 1)" stroke="#000" stroke-width="0.35" font-family="'Liberation Sans','Noto Sans CJK SC',sans-serif" font-weight="900" font-size="22.9">智昇</text>
<text x="0" y="0" font-size="5.5" font-weight="700" textLength="65.1" lengthAdjust="spacing" transform="translate(0 30.3) scale(1.88 1)">ZHISHENG</text>
</g>
<g transform="translate(1151.5 112.15)" fill="#000" opacity="0.1">
<path d="M0 0H18.2L0 10.2Z M0 11.8L18.5 21.7H0Z M19.5 0H38L19.5 10.2Z M19.5 11.2H38L19.5 21.4Z"/>
<text transform="translate(42.7 19.5) scale(1.75 1)" stroke="#000" stroke-width="0.35" font-family="'Liberation Sans','Noto Sans CJK SC',sans-serif" font-weight="900" font-size="22.9">智昇</text>
<text x="0" y="0" font-size="5.5" font-weight="700" textLength="65.1" lengthAdjust="spacing" transform="translate(0 30.3) scale(1.88 1)">ZHISHENG</text>
</g>
<g transform="translate(1151.5 218.50)" fill="#000" opacity="0.1">
<path d="M0 0H18.2L0 10.2Z M0 11.8L18.5 21.7H0Z M19.5 0H38L19.5 10.2Z M19.5 11.2H38L19.5 21.4Z"/>
<text transform="translate(42.7 19.5) scale(1.75 1)" stroke="#000" stroke-width="0.35" font-family="'Liberation Sans','Noto Sans CJK SC',sans-serif" font-weight="900" font-size="22.9">智昇</text>
<text x="0" y="0" font-size="5.5" font-weight="700" textLength="65.1" lengthAdjust="spacing" transform="translate(0 30.3) scale(1.88 1)">ZHISHENG</text>
</g>
<g transform="translate(1151.5 324.85)" fill="#000" opacity="0.1">
<path d="M0 0H18.2L0 10.2Z M0 11.8L18.5 21.7H0Z M19.5 0H38L19.5 10.2Z M19.5 11.2H38L19.5 21.4Z"/>
<text transform="translate(42.7 19.5) scale(1.75 1)" stroke="#000" stroke-width="0.35" font-family="'Liberation Sans','Noto Sans CJK SC',sans-serif" font-weight="900" font-size="22.9">智昇</text>
<text x="0" y="0" font-size="5.5" font-weight="700" textLength="65.1" lengthAdjust="spacing" transform="translate(0 30.3) scale(1.88 1)">ZHISHENG</text>
</g>
<g transform="translate(1151.5 431.20)" fill="#000" opacity="0.1">
<path d="M0 0H18.2L0 10.2Z M0 11.8L18.5 21.7H0Z M19.5 0H38L19.5 10.2Z M19.5 11.2H38L19.5 21.4Z"/>
<text transform="translate(42.7 19.5) scale(1.75 1)" stroke="#000" stroke-width="0.35" font-family="'Liberation Sans','Noto Sans CJK SC',sans-serif" font-weight="900" font-size="22.9">智昇</text>
<text x="0" y="0" font-size="5.5" font-weight="700" textLength="65.1" lengthAdjust="spacing" transform="translate(0 30.3) scale(1.88 1)">ZHISHENG</text>
</g>
<g transform="translate(1151.5 537.55)" fill="#000" opacity="0.1">
<path d="M0 0H18.2L0 10.2Z M0 11.8L18.5 21.7H0Z M19.5 0H38L19.5 10.2Z M19.5 11.2H38L19.5 21.4Z"/>
<text transform="translate(42.7 19.5) scale(1.75 1)" stroke="#000" stroke-width="0.35" font-family="'Liberation Sans','Noto Sans CJK SC',sans-serif" font-weight="900" font-size="22.9">智昇</text>
<text x="0" y="0" font-size="5.5" font-weight="700" textLength="65.1" lengthAdjust="spacing" transform="translate(0 30.3) scale(1.88 1)">ZHISHENG</text>
</g>
<g transform="translate(316.0 54.90)" fill="#000" opacity="0.1">
<path d="M0 0H18.2L0 10.2Z M0 11.8L18.5 21.7H0Z M19.5 0H38L19.5 10.2Z M19.5 11.2H38L19.5 21.4Z"/>
<text transform="translate(42.7 19.5) scale(1.75 1)" stroke="#000" stroke-width="0.35" font-family="'Liberation Sans','Noto Sans CJK SC',sans-serif" font-weight="900" font-size="22.9">智昇</text>
<text x="0" y="0" font-size="5.5" font-weight="700" textLength="65.1" lengthAdjust="spacing" transform="translate(0 30.3) scale(1.88 1)">ZHISHENG</text>
</g>
<g transform="translate(316.0 161.25)" fill="#000" opacity="0.1">
<path d="M0 0H18.2L0 10.2Z M0 11.8L18.5 21.7H0Z M19.5 0H38L19.5 10.2Z M19.5 11.2H38L19.5 21.4Z"/>
<text transform="translate(42.7 19.5) scale(1.75 1)" stroke="#000" stroke-width="0.35" font-family="'Liberation Sans','Noto Sans CJK SC',sans-serif" font-weight="900" font-size="22.9">智昇</text>
<text x="0" y="0" font-size="5.5" font-weight="700" textLength="65.1" lengthAdjust="spacing" transform="translate(0 30.3) scale(1.88 1)">ZHISHENG</text>
</g>
<g transform="translate(316.0 267.60)" fill="#000" opacity="0.1">
<path d="M0 0H18.2L0 10.2Z M0 11.8L18.5 21.7H0Z M19.5 0H38L19.5 10.2Z M19.5 11.2H38L19.5 21.4Z"/>
<text transform="translate(42.7 19.5) scale(1.75 1)" stroke="#000" stroke-width="0.35" font-family="'Liberation Sans','Noto Sans CJK SC',sans-serif" font-weight="900" font-size="22.9">智昇</text>
<text x="0" y="0" font-size="5.5" font-weight="700" textLength="65.1" lengthAdjust="spacing" transform="translate(0 30.3) scale(1.88 1)">ZHISHENG</text>
</g>
<g transform="translate(316.0 373.95)" fill="#000" opacity="0.1">
<path d="M0 0H18.2L0 10.2Z M0 11.8L18.5 21.7H0Z M19.5 0H38L19.5 10.2Z M19.5 11.2H38L19.5 21.4Z"/>
<text transform="translate(42.7 19.5) scale(1.75 1)" stroke="#000" stroke-width="0.35" font-family="'Liberation Sans','Noto Sans CJK SC',sans-serif" font-weight="900" font-size="22.9">智昇</text>
<text x="0" y="0" font-size="5.5" font-weight="700" textLength="65.1" lengthAdjust="spacing" transform="translate(0 30.3) scale(1.88 1)">ZHISHENG</text>
</g>
<g transform="translate(316.0 480.30)" fill="#000" opacity="0.1">
<path d="M0 0H18.2L0 10.2Z M0 11.8L18.5 21.7H0Z M19.5 0H38L19.5 10.2Z M19.5 11.2H38L19.5 21.4Z"/>
<text transform="translate(42.7 19.5) scale(1.75 1)" stroke="#000" stroke-width="0.35" font-family="'Liberation Sans','Noto Sans CJK SC',sans-serif" font-weight="900" font-size="22.9">智昇</text>
<text x="0" y="0" font-size="5.5" font-weight="700" textLength="65.1" lengthAdjust="spacing" transform="translate(0 30.3) scale(1.88 1)">ZHISHENG</text>
</g>
<g transform="translate(316.0 586.65)" fill="#000" opacity="0.1">
<path d="M0 0H18.2L0 10.2Z M0 11.8L18.5 21.7H0Z M19.5 0H38L19.5 10.2Z M19.5 11.2H38L19.5 21.4Z"/>
<text transform="translate(42.7 19.5) scale(1.75 1)" stroke="#000" stroke-width="0.35" font-family="'Liberation Sans','Noto Sans CJK SC',sans-serif" font-weight="900" font-size="22.9">智昇</text>
<text x="0" y="0" font-size="5.5" font-weight="700" textLength="65.1" lengthAdjust="spacing" transform="translate(0 30.3) scale(1.88 1)">ZHISHENG</text>
</g>
<g transform="translate(872.9 54.90)" fill="#000" opacity="0.1">
<path d="M0 0H18.2L0 10.2Z M0 11.8L18.5 21.7H0Z M19.5 0H38L19.5 10.2Z M19.5 11.2H38L19.5 21.4Z"/>
<text transform="translate(42.7 19.5) scale(1.75 1)" stroke="#000" stroke-width="0.35" font-family="'Liberation Sans','Noto Sans CJK SC',sans-serif" font-weight="900" font-size="22.9">智昇</text>
<text x="0" y="0" font-size="5.5" font-weight="700" textLength="65.1" lengthAdjust="spacing" transform="translate(0 30.3) scale(1.88 1)">ZHISHENG</text>
</g>
<g transform="translate(872.9 161.25)" fill="#000" opacity="0.1">
<path d="M0 0H18.2L0 10.2Z M0 11.8L18.5 21.7H0Z M19.5 0H38L19.5 10.2Z M19.5 11.2H38L19.5 21.4Z"/>
<text transform="translate(42.7 19.5) scale(1.75 1)" stroke="#000" stroke-width="0.35" font-family="'Liberation Sans','Noto Sans CJK SC',sans-serif" font-weight="900" font-size="22.9">智昇</text>
<text x="0" y="0" font-size="5.5" font-weight="700" textLength="65.1" lengthAdjust="spacing" transform="translate(0 30.3) scale(1.88 1)">ZHISHENG</text>
</g>
<g transform="translate(872.9 267.60)" fill="#000" opacity="0.1">
<path d="M0 0H18.2L0 10.2Z M0 11.8L18.5 21.7H0Z M19.5 0H38L19.5 10.2Z M19.5 11.2H38L19.5 21.4Z"/>
<text transform="translate(42.7 19.5) scale(1.75 1)" stroke="#000" stroke-width="0.35" font-family="'Liberation Sans','Noto Sans CJK SC',sans-serif" font-weight="900" font-size="22.9">智昇</text>
<text x="0" y="0" font-size="5.5" font-weight="700" textLength="65.1" lengthAdjust="spacing" transform="translate(0 30.3) scale(1.88 1)">ZHISHENG</text>
</g>
<g transform="translate(872.9 373.95)" fill="#000" opacity="0.1">
<path d="M0 0H18.2L0 10.2Z M0 11.8L18.5 21.7H0Z M19.5 0H38L19.5 10.2Z M19.5 11.2H38L19.5 21.4Z"/>
<text transform="translate(42.7 19.5) scale(1.75 1)" stroke="#000" stroke-width="0.35" font-family="'Liberation Sans','Noto Sans CJK SC',sans-serif" font-weight="900" font-size="22.9">智昇</text>
<text x="0" y="0" font-size="5.5" font-weight="700" textLength="65.1" lengthAdjust="spacing" transform="translate(0 30.3) scale(1.88 1)">ZHISHENG</text>
</g>
<g transform="translate(872.9 480.30)" fill="#000" opacity="0.1">
<path d="M0 0H18.2L0 10.2Z M0 11.8L18.5 21.7H0Z M19.5 0H38L19.5 10.2Z M19.5 11.2H38L19.5 21.4Z"/>
<text transform="translate(42.7 19.5) scale(1.75 1)" stroke="#000" stroke-width="0.35" font-family="'Liberation Sans','Noto Sans CJK SC',sans-serif" font-weight="900" font-size="22.9">智昇</text>
<text x="0" y="0" font-size="5.5" font-weight="700" textLength="65.1" lengthAdjust="spacing" transform="translate(0 30.3) scale(1.88 1)">ZHISHENG</text>
</g>
<g transform="translate(872.9 586.65)" fill="#000" opacity="0.1">
<path d="M0 0H18.2L0 10.2Z M0 11.8L18.5 21.7H0Z M19.5 0H38L19.5 10.2Z M19.5 11.2H38L19.5 21.4Z"/>
<text transform="translate(42.7 19.5) scale(1.75 1)" stroke="#000" stroke-width="0.35" font-family="'Liberation Sans','Noto Sans CJK SC',sans-serif" font-weight="900" font-size="22.9">智昇</text>
<text x="0" y="0" font-size="5.5" font-weight="700" textLength="65.1" lengthAdjust="spacing" transform="translate(0 30.3) scale(1.88 1)">ZHISHENG</text>
</g>
</svg>
</body></html>
